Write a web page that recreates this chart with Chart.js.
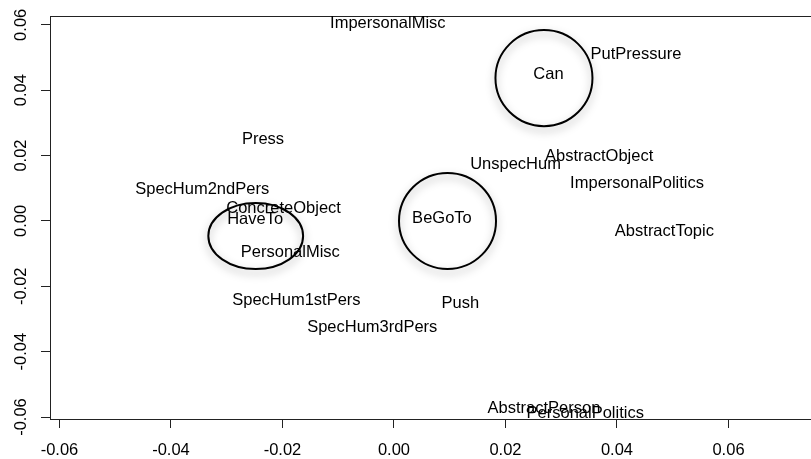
<!DOCTYPE html>
<html>
<head>
<meta charset="utf-8">
<script src="https://cdn.jsdelivr.net/npm/chart.js@4"></script>
<style>
  html, body { margin: 0; padding: 0; background: #fff; overflow: hidden; }
  #wrap { width: 811px; height: 459px; overflow: hidden; }
</style>
</head>
<body>
<div id="wrap"><canvas id="grafico" width="845" height="459"></canvas></div>
<script>
// rótulos e coordenadas (x, y)
const rotulos = ["ImpersonalMisc", "Can", "PutPressure", "Press", "SpecHum2ndPers",
    "ConcreteObject", "HaveTo", "PersonalMisc", "BeGoTo", "UnspecHum",
    "AbstractObject", "ImpersonalPolitics", "AbstractTopic", "SpecHum1stPers",
    "Push", "SpecHum3rdPers", "AbstractPerson", "PersonalPolitics"];
const valoresX = [-0.0011, 0.0277, 0.0434, -0.0235, -0.0344,
    -0.0198, -0.0249, -0.0186, 0.0086, 0.0218,
    0.0368, 0.0436, 0.0485, -0.0175,
    0.0119, -0.0039, 0.0269, 0.0343];
const valoresY = [0.0605, 0.0449, 0.0510, 0.0250, 0.0097,
    0.0039, 0.0006, -0.0095, 0.0009, 0.0174,
    0.0198, 0.0116, -0.0031, -0.0242,
    -0.0254, -0.0325, -0.0575, -0.0588];

// elipses em torno dos verbos (centro e raios em unidades dos eixos)
const circCentroX = [0.0269, 0.0096, -0.0248];
const circCentroY = [0.0437, 0.0000, -0.0046];
const circRaioX = [0.0087, 0.0087, 0.0085];
const circRaioY = [0.0147, 0.0147, 0.0101];

const ticksX = [-0.06, -0.04, -0.02, 0.00, 0.02, 0.04, 0.06];
const ticksY = [-0.06, -0.04, -0.02, 0.00, 0.02, 0.04, 0.06];

const fonte = { family: "'Liberation Sans', Arial, Helvetica, sans-serif", size: 16.5 };

const pluginDesenho = {
    id: "desenho",
    afterDatasetsDraw(chart) {
        const ctx = chart.ctx;
        const sx = chart.scales.x, sy = chart.scales.y;
        const area = chart.chartArea;

        // caixa
        ctx.save();
        ctx.strokeStyle = "#222";
        ctx.lineWidth = 1;
        ctx.strokeRect(Math.round(area.left) + 0.5, Math.round(area.top) + 0.5,
            Math.round(area.right - area.left), Math.round(area.bottom - area.top));
        ctx.restore();

        // elipses com sombra
        const metaC = chart.getDatasetMeta(1);
        metaC.data.forEach((pt, i) => {
            const rx = Math.abs(sx.getPixelForValue(circCentroX[i] + circRaioX[i]) - pt.x);
            const ry = Math.abs(sy.getPixelForValue(circCentroY[i] + circRaioY[i]) - pt.y);
            ctx.save();
            ctx.shadowColor = "rgba(0,0,0,0.35)";
            ctx.shadowBlur = 8;
            ctx.shadowOffsetY = 4;
            ctx.beginPath();
            ctx.ellipse(pt.x, pt.y, rx, ry, 0, 0, Math.PI * 2);
            ctx.strokeStyle = "#000";
            ctx.lineWidth = 2;
            ctx.stroke();
            ctx.restore();
        });

        // textos
        const meta = chart.getDatasetMeta(0);
        ctx.save();
        ctx.font = fonte.size + "px " + fonte.family;
        ctx.fillStyle = "#000";
        ctx.textAlign = "center";
        ctx.textBaseline = "middle";
        meta.data.forEach((pt, i) => {
            ctx.fillText(rotulos[i], pt.x, pt.y);
        });
        ctx.restore();
    }
};

new Chart(document.getElementById("grafico"), {
    type: "scatter",
    data: {
        datasets: [
            {
                label: "rotulos",
                data: valoresX.map((x, i) => ({ x: x, y: valoresY[i] })),
                pointRadius: 0,
                pointHoverRadius: 0
            },
            {
                label: "circulos",
                data: circCentroX.map((x, i) => ({ x: x, y: circCentroY[i] })),
                pointRadius: 0,
                pointHoverRadius: 0
            }
        ]
    },
    options: {
        responsive: false,
        animation: false,
        events: [],
        layout: { padding: { top: 16, right: 5, bottom: 0, left: 0 } },
        plugins: {
            legend: { display: false },
            tooltip: { enabled: false }
        },
        scales: {
            x: {
                type: "linear",
                min: -0.0617,
                max: 0.0800,
                afterFit: function (scale) { scale.height = 40; },
                afterBuildTicks: function (scale) {
                    scale.ticks = ticksX.map(v => ({ value: v }));
                },
                border: { display: true, color: "#222", width: 1 },
                grid: { display: true, drawOnChartArea: false, drawTicks: true, tickLength: 9, color: "#222" },
                ticks: {
                    color: "#000",
                    font: fonte,
                    padding: 13,
                    maxRotation: 0,
                    autoSkip: false,
                    callback: v => v.toFixed(2)
                }
            },
            y: {
                type: "linear",
                min: -0.0606,
                max: 0.0627,
                afterFit: function (scale) { scale.width = 50; },
                afterBuildTicks: function (scale) {
                    scale.ticks = ticksY.map(v => ({ value: v }));
                },
                border: { display: true, color: "#222", width: 1 },
                grid: { display: true, drawOnChartArea: false, drawTicks: true, tickLength: 9, color: "#222" },
                ticks: {
                    color: "#000",
                    font: fonte,
                    padding: 1,
                    minRotation: 90,
                    maxRotation: 90,
                    crossAlign: "center",
                    autoSkip: false,
                    callback: v => v.toFixed(2)
                }
            }
        }
    },
    plugins: [pluginDesenho]
});
</script>
</body>
</html>
